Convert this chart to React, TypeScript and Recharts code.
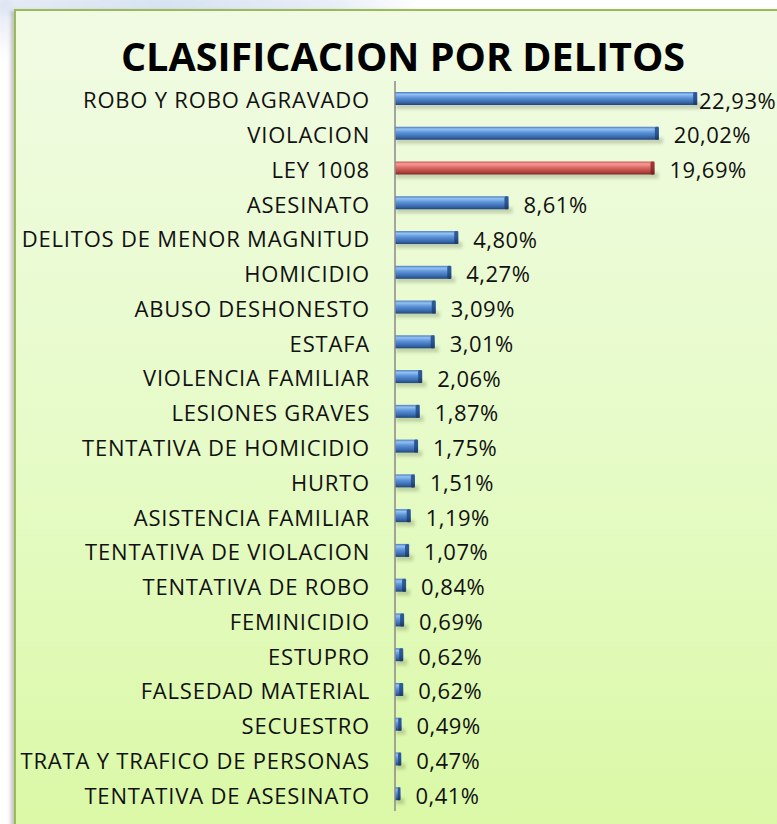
import React from 'react';
import { BarChart, Bar, XAxis, YAxis, Cell, LabelList } from 'recharts';

const categories = [
  'ROBO Y ROBO AGRAVADO',
  'VIOLACION',
  'LEY 1008',
  'ASESINATO',
  'DELITOS DE MENOR MAGNITUD',
  'HOMICIDIO',
  'ABUSO DESHONESTO',
  'ESTAFA',
  'VIOLENCIA FAMILIAR',
  'LESIONES GRAVES',
  'TENTATIVA DE HOMICIDIO',
  'HURTO',
  'ASISTENCIA FAMILIAR',
  'TENTATIVA DE VIOLACION',
  'TENTATIVA DE ROBO',
  'FEMINICIDIO',
  'ESTUPRO',
  'FALSEDAD MATERIAL',
  'SECUESTRO',
  'TRATA Y TRAFICO DE PERSONAS',
  'TENTATIVA DE ASESINATO',
];

const percentages = [
  22.93, 20.02, 19.69, 8.61, 4.8, 4.27, 3.09, 3.01, 2.06, 1.87, 1.75, 1.51, 1.19, 1.07, 0.84, 0.69, 0.62, 0.62,
  0.49, 0.47, 0.41,
];

const highlighted = ['LEY 1008'];

const title = 'CLASIFICACION POR DELITOS';

const data = categories.map((name, i) => ({ name, value: percentages[i] }));

const FONT = '"Open Sans", sans-serif';

const fmt = (v: number) => v.toFixed(2).replace('.', ',') + '%';

const BarShape = (props: any) => {
  const { x, y, width, height, payload } = props;
  const red = highlighted.includes(payload?.name);
  const grad = red ? 'url(#redGrad)' : 'url(#blueGrad)';
  const cap = red ? 'url(#redCap)' : 'url(#blueCap)';
  const w = Math.max(width, 3);
  return (
    <g>
      <rect x={x + 1} y={y + height - 2} width={w + 3} height={6} fill="rgba(60,70,40,0.22)" filter="url(#blurShadow)" />
      <rect x={x} y={y} width={w} height={height} fill={grad} />
      <rect x={x + w - Math.min(4, w / 2)} y={y} width={Math.min(4, w / 2)} height={height} fill={cap} rx={1.5} />
    </g>
  );
};

const renderLabel = (props: any) => {
  const { x, y, width, height, value } = props;
  const end = x + width;
  const lx = Math.min(end + 15, 699);
  return (
    <text
      x={lx}
      y={y + height / 2 + 1}
      dominantBaseline="central"
      fontFamily={FONT}
      fontSize={22}
      letterSpacing={0.5}
      fill="#111"
    >
      {fmt(value)}
    </text>
  );
};

const CatTick = (props: any) => {
  const { y, payload } = props;
  return (
    <text
      x={370}
      y={y + 1}
      textAnchor="end"
      dominantBaseline="central"
      fontFamily={FONT}
      fontSize={22}
      letterSpacing={0.8}
      fill="#111"
    >
      {payload.value}
    </text>
  );
};

export default function App() {
  return (
    <div style={{ position: 'absolute', left: 0, top: 0, width: 777, height: 824, overflow: 'hidden', background: '#fff' }}>
      <div
        style={{
          position: 'absolute',
          left: 0,
          top: -6,
          width: 420,
          height: 20,
          background: 'linear-gradient(to right, #dfe7f3, #cfdcef 40%, #e4ebf6 80%, #ffffff)',
          filter: 'blur(3px)',
          opacity: 0.8,
        }}
      />
      <div
        style={{
          position: 'absolute',
          left: -4,
          top: 0,
          width: 14,
          height: 60,
          background: 'linear-gradient(to bottom, #d6e0ef, #ffffff)',
          filter: 'blur(3px)',
          opacity: 0.8,
        }}
      />
      <div
        style={{
          position: 'absolute',
          left: 14,
          top: 9,
          width: 820,
          height: 860,
          border: '2px solid #9bbb59',
          background: 'linear-gradient(to bottom, #f1fbe4 0%, #e6fbc8 50%, #d9f8a2 100%)',
          boxShadow: '-3px 2px 4px rgba(0,0,0,0.25)',
        }}
      />
      <svg width={777} height={824} style={{ position: 'absolute', left: 0, top: 0 }}>
        <text x={403} y={71} textAnchor="middle" fontFamily={FONT} fontWeight={700} fontSize={39.5} fill="#000">
          {title}
        </text>
      </svg>
      <div style={{ position: 'absolute', left: 0, top: 0 }}>
        <BarChart
          width={777}
          height={824}
          data={data}
          layout="vertical"
          margin={{ top: 81, right: 13, bottom: 13, left: 0 }}
        >
          <defs>
            <linearGradient id="blueGrad" x1="0" y1="0" x2="0" y2="1">
              <stop offset="0%" stopColor="#4a7cc0" />
              <stop offset="18%" stopColor="#93c2f2" />
              <stop offset="45%" stopColor="#5b92d8" />
              <stop offset="80%" stopColor="#3767ab" />
              <stop offset="100%" stopColor="#214678" />
            </linearGradient>
            <linearGradient id="redGrad" x1="0" y1="0" x2="0" y2="1">
              <stop offset="0%" stopColor="#c65552" />
              <stop offset="18%" stopColor="#f59d9a" />
              <stop offset="45%" stopColor="#de6b68" />
              <stop offset="80%" stopColor="#b3433f" />
              <stop offset="100%" stopColor="#7f2a28" />
            </linearGradient>
            <linearGradient id="blueCap" x1="0" y1="0" x2="0" y2="1">
              <stop offset="0%" stopColor="#2f5d9a" />
              <stop offset="50%" stopColor="#2a5592" />
              <stop offset="100%" stopColor="#1b3a66" />
            </linearGradient>
            <linearGradient id="redCap" x1="0" y1="0" x2="0" y2="1">
              <stop offset="0%" stopColor="#a33a37" />
              <stop offset="50%" stopColor="#963331" />
              <stop offset="100%" stopColor="#6a2220" />
            </linearGradient>
            <filter id="blurShadow" x="-20%" y="-100%" width="140%" height="300%">
              <feGaussianBlur stdDeviation="1.5" />
            </filter>
          </defs>
          <XAxis type="number" domain={[0, 28]} hide />
          <YAxis
            type="category"
            dataKey="name"
            width={395}
            axisLine={{ stroke: '#8a8a8a', strokeWidth: 1.5 }}
            tickLine={false}
            interval={0}
            tick={<CatTick />}
          />
          <Bar dataKey="value" barSize={13} isAnimationActive={false} shape={<BarShape />}>
            {data.map((d) => (
              <Cell key={d.name} fill={highlighted.includes(d.name) ? '#c0504d' : '#4f81bd'} />
            ))}
            <LabelList dataKey="value" content={renderLabel} />
          </Bar>
        </BarChart>
      </div>
    </div>
  );
}
